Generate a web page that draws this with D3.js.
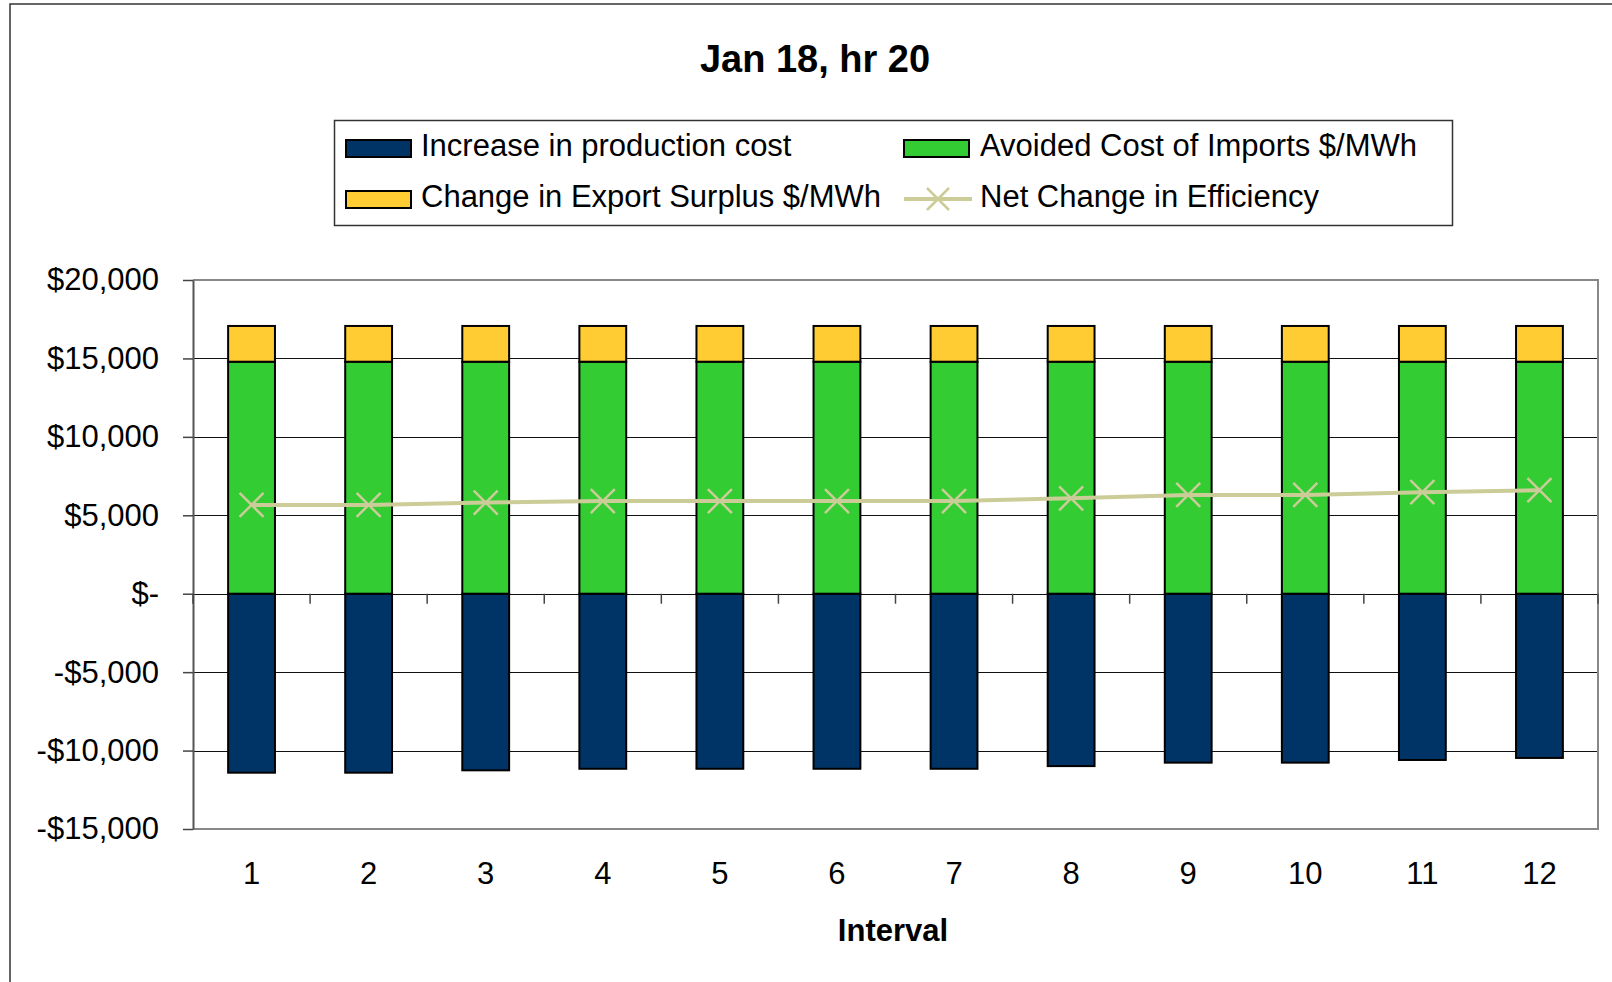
<!DOCTYPE html>
<html>
<head>
<meta charset="utf-8">
<script src="https://cdn.jsdelivr.net/npm/d3@7"></script>
<style>
	body { margin: 0; background: #fff; }
	text { font-family: Arial, "Liberation Sans", sans-serif; fill: #000; }
</style>
</head>
<body>
<div class="container"></div>
<script>

var intervals = [1, 2, 3, 4, 5, 6, 7, 8, 9, 10, 11, 12];
var productionCost = [-11410, -11410, -11260, -11160, -11160, -11160, -11160, -10990, -10770, -10770, -10600, -10470];
var avoidedImports = [14790, 14790, 14790, 14790, 14790, 14790, 14790, 14790, 14790, 14790, 14790, 14790];
var exportSurplus = [2280, 2280, 2280, 2280, 2280, 2280, 2280, 2280, 2280, 2280, 2280, 2280];
var netChange = [5660, 5660, 5810, 5910, 5910, 5910, 5910, 6080, 6300, 6300, 6470, 6600];
var yTicks = [-15000, -10000, -5000, 0, 5000, 10000, 15000, 20000];

var seriesNames = ['Increase in production cost', 'Avoided Cost of Imports $/MWh',
				   'Change in Export Surplus $/MWh', 'Net Change in Efficiency'];
var colors = {cost: '#003366', imports: '#33CC33', surplus: '#FFCC33', net: '#CCCC99'};

var WIDTH = 1612, HEIGHT = 982;
var PLOT = {left: 193, top: 280, right: 1598, bottom: 829};

var xScale = d3.scaleBand()
	.domain(intervals)
	.range([PLOT.left, PLOT.right])
	.paddingInner(0.6)
	.paddingOuter(0.3);

var yScale = d3.scaleLinear()
	.domain([-15000, 20000])
	.range([PLOT.bottom, PLOT.top]);

var formatMoney = function(d) {
	if (d === 0) return '$-';
	return (d < 0 ? '-$' : '$') + d3.format(',')(Math.abs(d));
}

var rows = intervals.map(function(d, i) {
	return {interval: d, cost: productionCost[i], imports: avoidedImports[i], surplus: exportSurplus[i]};
});

var stacked = d3.stack()
	.keys(['cost', 'imports', 'surplus'])
	.offset(d3.stackOffsetDiverging)(rows);

var svg = d3.select('.container').append('svg')
	.attr('width', WIDTH)
	.attr('height', HEIGHT);

// chart frame
svg.append('path')
	.attr('d', 'M10,' + HEIGHT + 'V4H' + WIDTH)
	.attr('fill', 'none')
	.attr('stroke', '#333')
	.attr('stroke-width', 1.5);

// title
svg.append('text')
	.attr('x', 815).attr('y', 62)
	.attr('text-anchor', 'middle')
	.attr('dominant-baseline', 'middle')
	.style('font-size', '38px')
	.style('font-weight', 'bold')
	.text('Jan 18, hr 20');

// gridlines
svg.append('g').selectAll('line').data(yTicks.slice(1, -1))
	.enter().append('line')
	.attr('x1', PLOT.left).attr('x2', PLOT.right)
	.attr('y1', function(d) { return Math.round(yScale(d)) + 0.5; })
	.attr('y2', function(d) { return Math.round(yScale(d)) + 0.5; })
	.attr('stroke', '#111')
	.attr('stroke-width', 1);

// plot border
svg.append('path')
	.attr('d', 'M' + PLOT.left + ',' + PLOT.top + 'H' + PLOT.right + 'V' + PLOT.bottom + 'H' + PLOT.left)
	.attr('fill', 'none')
	.attr('stroke', '#888')
	.attr('stroke-width', 2);

// y axis
var yAxis = d3.axisLeft(yScale).tickValues(yTicks).tickFormat(formatMoney).tickSizeOuter(0).tickSizeInner(10).tickPadding(24);
var yG = svg.append('g').attr('transform', 'translate(' + PLOT.left + ',0)').call(yAxis);
yG.select('.domain').attr('stroke', '#555').attr('stroke-width', 2);
yG.selectAll('.tick line').attr('stroke', '#444').attr('stroke-width', 1.5);
yG.selectAll('.tick text').style('font-size', '31px').attr('font-family', null);

// x axis on zero line, ticks at category boundaries
var xG = svg.append('g').attr('transform', 'translate(0,' + yScale(0) + ')');
var boundaries = intervals.map(function(d, i) { return PLOT.left + xScale.step() * i; }).concat([PLOT.right]);
xG.selectAll('line.tk').data(boundaries).enter().append('line')
	.attr('class', 'tk')
	.attr('x1', function(d) { return d; }).attr('x2', function(d) { return d; })
	.attr('y1', 0).attr('y2', 10)
	.attr('stroke', '#444').attr('stroke-width', 1.5);

// bars
svg.append('g').selectAll('g').data(stacked)
	.enter().append('g')
	.attr('fill', function(d) { return colors[d.key]; })
	.selectAll('rect').data(function(d) { return d; })
	.enter().append('rect')
	.attr('x', function(d) { return xScale(d.data.interval); })
	.attr('width', xScale.bandwidth())
	.attr('y', function(d) { return yScale(d[1]); })
	.attr('height', function(d) { return yScale(d[0]) - yScale(d[1]); })
	.attr('stroke', '#000')
	.attr('stroke-width', 2);

// net change line
var cx = function(d, i) { return xScale(intervals[i]) + xScale.bandwidth() / 2; };
var line = d3.line().x(cx).y(function(d) { return yScale(d); });

svg.append('path')
	.datum(netChange)
	.attr('d', line)
	.attr('fill', 'none')
	.attr('stroke', colors.net)
	.attr('stroke-width', 4);

var appendCross = function(group, x, y, r) {
	return group.append('path')
		.attr('d', 'M' + (x - r) + ',' + (y - r) + 'L' + (x + r) + ',' + (y + r) + 'M' + (x - r) + ',' + (y + r) + 'L' + (x + r) + ',' + (y - r))
		.attr('stroke', colors.net)
		.attr('stroke-width', 2.5)
		.attr('fill', 'none');
}

var markers = svg.append('g');
netChange.forEach(function(d, i) { appendCross(markers, cx(d, i), yScale(d), 12); });

// x labels
svg.append('g').selectAll('text').data(intervals)
	.enter().append('text')
	.attr('x', function(d) { return xScale(d) + xScale.bandwidth() / 2; })
	.attr('y', 876)
	.attr('text-anchor', 'middle')
	.attr('dominant-baseline', 'middle')
	.style('font-size', '31px')
	.text(function(d) { return d; });

svg.append('text')
	.attr('x', 893).attr('y', 933)
	.attr('text-anchor', 'middle')
	.attr('dominant-baseline', 'middle')
	.style('font-size', '31px')
	.style('font-weight', 'bold')
	.text('Interval');

// legend
var legend = svg.append('g');
legend.append('rect')
	.attr('x', 334.5).attr('y', 120.5).attr('width', 1118).attr('height', 105)
	.attr('fill', '#fff').attr('stroke', '#333').attr('stroke-width', 1.5);

var legendItems = [
	{name: seriesNames[0], key: 'cost', x: 346, y: 148},
	{name: seriesNames[1], key: 'imports', x: 904, y: 148},
	{name: seriesNames[2], key: 'surplus', x: 346, y: 199},
	{name: seriesNames[3], key: 'net', x: 904, y: 199}
];

legendItems.forEach(function(item) {
	if (item.key === 'net') {
		legend.append('line')
			.attr('x1', item.x).attr('x2', item.x + 68)
			.attr('y1', item.y).attr('y2', item.y)
			.attr('stroke', colors.net).attr('stroke-width', 4);
		appendCross(legend, item.x + 34, item.y, 11);
	} else {
		legend.append('rect')
			.attr('x', item.x).attr('y', item.y - 8)
			.attr('width', 65).attr('height', 17)
			.attr('fill', colors[item.key])
			.attr('stroke', '#000').attr('stroke-width', 2);
	}
	legend.append('text')
		.attr('x', item.x + (item.key === 'cost' || item.key === 'surplus' ? 75 : 76))
		.attr('y', item.y)
		.attr('dominant-baseline', 'middle')
		.style('font-size', '31px')
		.text(item.name);
});

</script>
</body>
</html>
